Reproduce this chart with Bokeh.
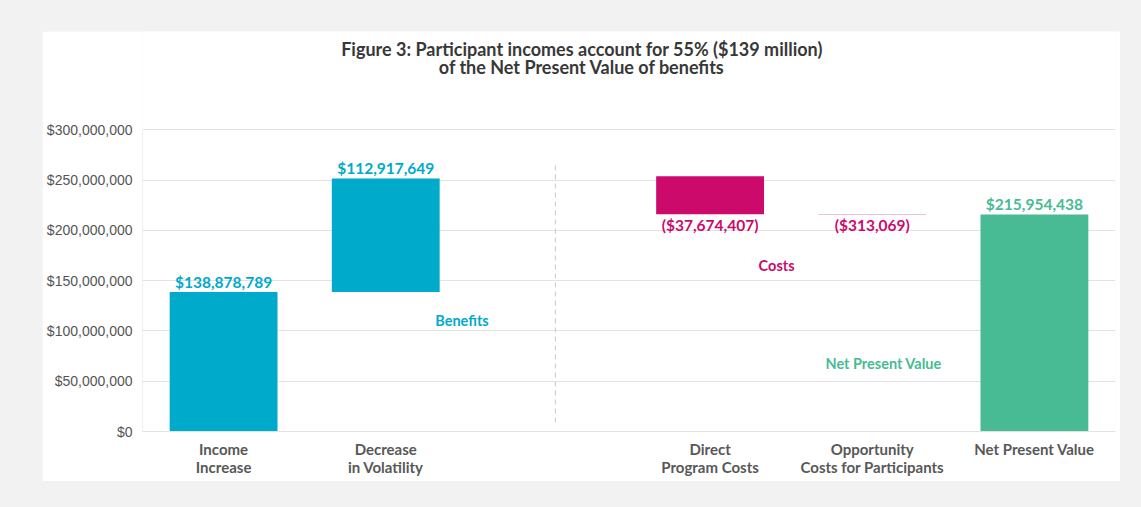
import numpy as np
from bokeh.plotting import figure
from bokeh.models import ColumnDataSource, Label, FixedTicker, Range1d
from bokeh.layouts import column
from bokeh.embed import file_html
from bokeh.resources import INLINE
from bokeh.core.properties import value

# ---------------- data ----------------
categories = ["Income\nIncrease", "Decrease\nin Volatility", "",
              "Direct\nProgram Costs", "Opportunity\nCosts for Participants",
              "Net Present Value"]
benefit_values = [138878789, 112917649]
benefit_labels = ["$138,878,789", "$112,917,649"]
cost_values = [-37674407, -313069]
cost_labels = ["($37,674,407)", "($313,069)"]
npv_value = 215954438
npv_label = "$215,954,438"
y_ticks = [0, 50000000, 100000000, 150000000, 200000000, 250000000, 300000000]
y_tick_labels = ["$0", "$50,000,000", "$100,000,000", "$150,000,000",
                 "$200,000,000", "$250,000,000", "$300,000,000"]
title_lines = ["Figure 3: Participant incomes account for 55% ($139 million)",
               "of the Net Present Value of benefits"]
group_labels = ["Benefits", "Costs", "Net Present Value"]

TEAL = "#00aacb"
MAGENTA = "#cc0a6c"
GREEN = "#48bb94"
GRID = "#e3e3e3"

# ---------------- derived geometry ----------------
xpos = [i + 0.5 for i in range(len(categories))]
b_top = list(np.cumsum(benefit_values))
b_bottom = [0] + b_top[:-1]
# costs stacked downward onto the net present value
c_bottom, c_top = [], []
base = npv_value
for v in reversed(cost_values):
    c_bottom.insert(0, base)
    c_top.insert(0, base - v)
    base = base - v

ben_src = ColumnDataSource(dict(x=xpos[0:2], top=b_top, bottom=b_bottom, label=benefit_labels))
cost_src = ColumnDataSource(dict(x=xpos[3:5], top=c_top, bottom=c_bottom, label=cost_labels))
npv_src = ColumnDataSource(dict(x=[xpos[5]], top=[npv_value], bottom=[0], label=[npv_label]))

Y_TOP = 398000000  # headroom above the axis for the chart title
p = figure(width=1078, height=450, output_backend="svg", toolbar_location=None,
           x_range=Range1d(0, 6), y_range=Range1d(0, Y_TOP),
           min_border_left=100, min_border_right=5, min_border_top=0,
           min_border_bottom=50)
p.margin = (31, 21, 26, 42)
p.background_fill_color = "white"
p.border_fill_color = "white"
p.outline_line_color = None

# vertical axis line (only up to the top tick)
p.segment(x0=[0], y0=[0], x1=[0], y1=[y_ticks[-1]], line_color=GRID, line_width=1)

BW = 0.665
p.vbar(x="x", top="top", bottom="bottom", width=BW, source=ben_src,
       fill_color=TEAL, line_color=None)
p.vbar(x="x", top="top", bottom="bottom", width=BW, source=cost_src,
       fill_color=MAGENTA, line_color=None)
p.vbar(x="x", top="top", bottom="bottom", width=BW, source=npv_src,
       fill_color=GREEN, line_color=None)

lab_font = value("Lato")
p.text(x="x", y="top", text="label", source=ben_src, text_align="center",
       text_baseline="bottom", y_offset=-1, text_font=lab_font,
       text_font_style="bold", text_font_size="15.5px", text_color=TEAL)
p.text(x="x", y="bottom", text="label", source=cost_src, text_align="center",
       text_baseline="top", y_offset=2, text_font=lab_font,
       text_font_style="bold", text_font_size="15.5px", text_color=MAGENTA)
p.text(x="x", y="top", text="label", source=npv_src, text_align="center",
       text_baseline="bottom", y_offset=-1, text_font=lab_font,
       text_font_style="bold", text_font_size="15.5px", text_color=GREEN)

# divider between benefits and costs
p.segment(x0=[2.546], y0=[9000000], x1=[2.546], y1=[265000000],
          line_color="#c8c8c8", line_width=1, line_dash="5 4")

# group annotations
for txt, gx, gy, col in zip(group_labels, [1.97, 3.91, 4.57],
                            [110000000, 165000000, 67500000],
                            [TEAL, MAGENTA, GREEN]):
    p.add_layout(Label(x=gx, y=gy, text=txt, text_align="center",
                       text_baseline="middle", text_font="Lato",
                       text_font_style="bold", text_font_size="14.5px",
                       text_color=col))

# title
for line, ty in zip(title_lines, [381000000, 363000000]):
    p.add_layout(Label(x=2.71, y=ty, text=line, text_align="center",
                       text_baseline="middle", text_font="Lato",
                       text_font_style="bold", text_font_size="18px",
                       text_color="#383838"))

# axes
p.xaxis.ticker = FixedTicker(ticks=xpos)
p.xaxis.major_label_overrides = {x: c for x, c in zip(xpos, categories)}
p.xaxis.major_label_text_font = "Lato"
p.xaxis.major_label_text_font_style = "bold"
p.xaxis.major_label_text_font_size = "15px"
p.xaxis.major_label_text_line_height = 1.0
p.xaxis.major_label_text_color = "#585858"
p.xaxis.major_label_standoff = 8
p.xaxis.axis_line_color = GRID
p.xaxis.major_tick_line_color = None
p.xaxis.minor_tick_line_color = None
p.xaxis.major_tick_out = 0
p.xaxis.major_tick_in = 0

p.yaxis.ticker = FixedTicker(ticks=y_ticks)
p.yaxis.major_label_overrides = {t: l for t, l in zip(y_ticks, y_tick_labels)}
p.yaxis.major_label_text_font = "Liberation Sans"
p.yaxis.major_label_text_font_size = "14px"
p.yaxis.major_label_text_color = "#555555"
p.yaxis.major_label_standoff = 10
p.yaxis.axis_line_color = None
p.yaxis.major_tick_line_color = None
p.yaxis.minor_tick_line_color = None
p.yaxis.major_tick_out = 0
p.yaxis.major_tick_in = 0

p.xgrid.grid_line_color = None
p.ygrid.grid_line_color = GRID
p.ygrid.ticker = FixedTicker(ticks=y_ticks)

layout = column(p, styles={"background-color": "#f2f2f2"})
open("out.html", "w").write(file_html(layout, INLINE))
